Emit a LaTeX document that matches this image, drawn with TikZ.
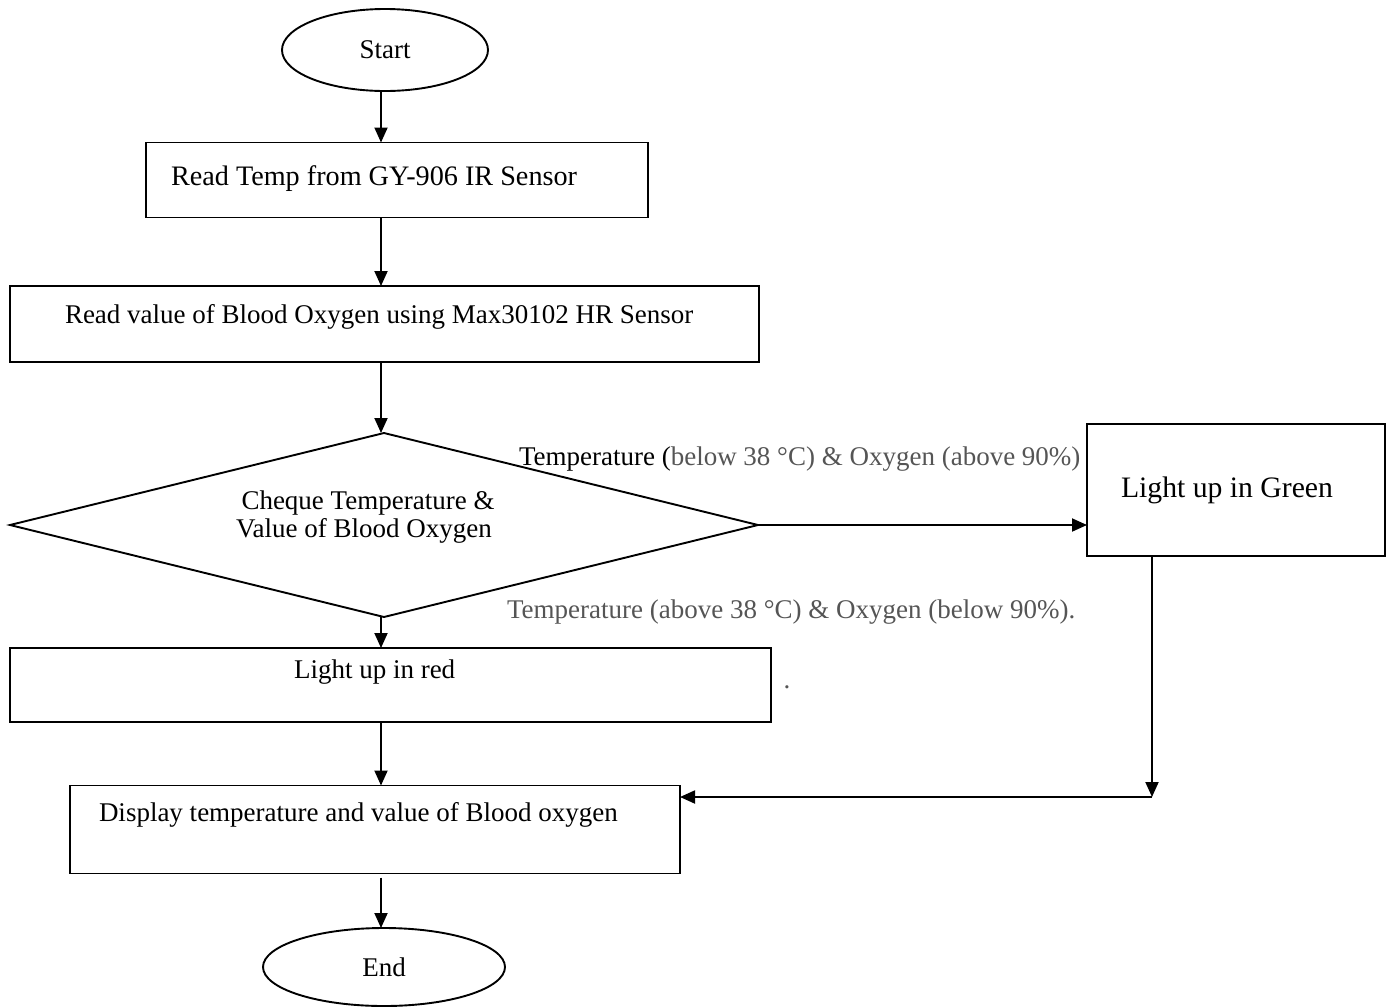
\documentclass[tikz,border=0pt]{standalone}
\usepackage{fontspec}
\setmainfont{Liberation Serif}
\usetikzlibrary{shapes.geometric,arrows.meta}
\definecolor{labelgray}{HTML}{555555}
\begin{document}
\begin{tikzpicture}[x=1pt,y=-1pt,
  line width=1.9pt,
  every node/.style={inner sep=0pt, outer sep=0pt},
  box/.style={draw, rectangle},
  term/.style={draw, ellipse, font=\fontsize{27}{27.4}\selectfont},
  decision/.style={draw, diamond},
  txt/.style={font=\fontsize{27}{27.4}\selectfont, anchor=base west},
  ctxt/.style={font=\fontsize{27}{27.4}\selectfont, anchor=base},
  lbl/.style={font=\fontsize{27}{27.4}\selectfont, text=labelgray, anchor=base west},
  arr/.style={-{Triangle[length=15pt,width=13pt]}}
]
\useasboundingbox (0,0) rectangle (1392,1007);

% terminals and boxes
\node[term, minimum width=206pt, minimum height=82pt] (start) at (385,50) {Start};
\node[box, minimum width=502pt, minimum height=75pt] (b1) at (397,180) {};
\node[txt, font=\fontsize{28.2}{28.6}\selectfont] (t1) at (171,185) {Read Temp from GY-906 IR Sensor};
\node[box, minimum width=749pt, minimum height=76pt] (b2) at (384.5,324) {};
\node[txt] (t2) at (65,323) {Read value of Blood Oxygen using Max30102 HR Sensor};
\node[decision, minimum width=748pt, minimum height=184pt] (dec) at (384,525) {};
\node[ctxt] (d1) at (368,509) {Cheque Temperature \&};
\node[ctxt] (d2) at (364,537) {Value of Blood Oxygen};
\node[box, minimum width=298pt, minimum height=132pt] (green) at (1236,490) {};
\node[txt, font=\fontsize{29.7}{30}\selectfont] (tg) at (1121,497) {Light up in Green};
\node[box, minimum width=761pt, minimum height=74pt] (red) at (390.5,685) {};
\node[txt] (tr) at (294,678) {Light up in red};
\node[box, minimum width=610pt, minimum height=88pt] (disp) at (375,829.5) {};
\node[txt] (td) at (99,821) {Display temperature and value of Blood oxygen};
\node[term, minimum width=242pt, minimum height=78pt] (end) at (384,967) {End};

% branch labels
\node[lbl] (l1) at (519,465) {\textcolor{black}{Temperature (}below 38 °C) \& Oxygen (above 90\%)};
\node[lbl] (l2) at (507,618) {Temperature (above 38 °C) \& Oxygen (below 90\%).};
\node[lbl, anchor=base] (dot) at (787,688) {.};

% connectors
\coordinate (col) at (381,0);
\coordinate (corner) at (1152,797);
\draw[arr] (col |- start.south) -- (col |- b1.north);
\draw[arr] (col |- b1.south) -- (col |- b2.north);
\draw[arr] (col |- b2.south) -- (col |- dec.north);
\draw[arr] (col |- dec.south) -- (col |- red.north);
\draw[arr] (col |- red.south) -- (col |- disp.north);
\draw[arr, shorten <=4pt] (col |- disp.south) -- (col |- end.north);
\draw[arr] (dec.east) -- (dec.east -| green.west);
\draw[arr] (corner |- green.south) -- (corner);
\draw[arr] (corner) -- (corner -| disp.east);
\end{tikzpicture}
\end{document}
